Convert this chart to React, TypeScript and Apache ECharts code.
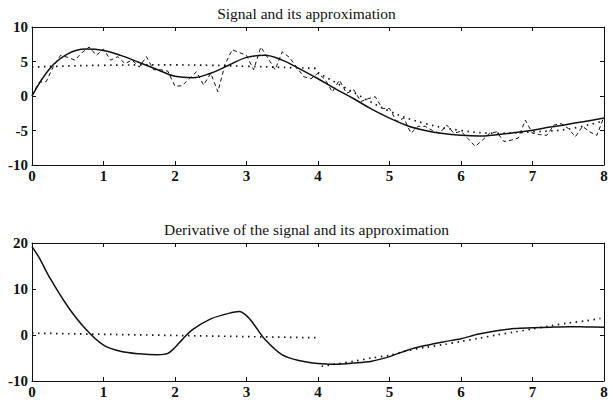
import React, { useEffect, useRef } from "react";
import * as echarts from "echarts";

// ---- Top panel: signal (solid), noisy samples (dashed), approximation (dotted)
const SIGNAL_T = [0, 0.25, 0.5, 0.75, 1, 1.25, 1.5, 1.75, 2, 2.25, 2.5, 2.75, 3, 3.25, 3.5, 3.75, 4, 4.25, 4.5, 4.75, 5, 5.25, 5.5, 5.75, 6, 6.25, 6.5, 6.75, 7, 7.25, 7.5, 7.75, 8];
const SIGNAL_V = [0, 4.0, 6.1, 6.8, 6.6, 5.85, 4.85, 3.85, 2.85, 2.65, 3.3, 4.45, 5.6, 5.9, 5.2, 3.9, 2.5, 1.0, -0.4, -1.9, -3.2, -4.3, -5.0, -5.45, -5.7, -5.8, -5.6, -5.3, -4.95, -4.5, -4.1, -3.65, -3.2];

const NOISY_T = [0, 0.1, 0.2, 0.3, 0.4, 0.5, 0.6, 0.7, 0.8, 0.9, 1, 1.1, 1.2, 1.3, 1.4, 1.5, 1.6, 1.7, 1.8, 1.9, 2, 2.1, 2.2, 2.3, 2.4, 2.5, 2.6, 2.7, 2.8, 2.9, 3, 3.1, 3.2, 3.3, 3.4, 3.5, 3.6, 3.7, 3.8, 3.9, 4, 4.1, 4.2, 4.3, 4.4, 4.5, 4.6, 4.7, 4.8, 4.9, 5, 5.1, 5.2, 5.3, 5.4, 5.5, 5.6, 5.7, 5.8, 5.9, 6, 6.1, 6.2, 6.3, 6.4, 6.5, 6.6, 6.7, 6.8, 6.9, 7, 7.1, 7.2, 7.3, 7.4, 7.5, 7.6, 7.7, 7.8, 7.9, 8];
const NOISY_V = [0.1, 2.0, 2.1, 4.3, 5.9, 5.6, 5.2, 6.3, 7.1, 5.9, 6.8, 5.2, 5.7, 4.7, 5.2, 4.2, 5.7, 3.8, 3.8, 3.6, 1.4, 1.5, 2.5, 3.5, 1.6, 3.3, 0.6, 4.6, 6.7, 6.3, 5.9, 3.8, 7.1, 5.5, 3.8, 6.4, 5.6, 4.2, 2.8, 2.5, 3.3, 2.4, 0.6, 2.3, 0.4, 0.9, -0.8, -0.4, -0.1, -1.8, -1.8, -3.7, -3.2, -5.4, -4.4, -4.4, -5.0, -5.4, -4.2, -5.4, -5.1, -6.2, -7.3, -6.4, -5.4, -5.2, -6.6, -6.4, -6.1, -3.5, -5.4, -5.6, -5.7, -4.2, -4.0, -4.7, -5.9, -4.4, -5.2, -5.7, -3.0];

const APPROX_A_T = [0, 0.5, 1, 1.5, 2, 2.5, 3, 3.5, 4];
const APPROX_A_V = [4.2, 4.35, 4.45, 4.5, 4.5, 4.45, 4.3, 4.15, 4.0];
const APPROX_B_T = [4, 4.5, 5, 5.5, 6, 6.5, 7, 7.5, 8];
const APPROX_B_V = [3.4, 0.5, -2.2, -4.0, -5.0, -5.4, -5.2, -4.8, -3.6];

// ---- Bottom panel: derivative (solid) and derivative of approximation (dotted)
const DERIV_T = [0, 0.1, 0.25, 0.5, 0.75, 1, 1.25, 1.5, 1.75, 1.9, 2, 2.1, 2.25, 2.5, 2.75, 2.9, 3, 3.1, 3.25, 3.5, 3.75, 4, 4.25, 4.5, 4.75, 5, 5.25, 5.5, 5.75, 6, 6.25, 6.5, 6.75, 7, 7.25, 7.5, 7.75, 8];
const DERIV_V = [19.2, 16.8, 12.4, 6.2, 1.3, -2.2, -3.6, -4.1, -4.3, -4.0, -2.7, -1.0, 1.2, 3.5, 4.7, 5.1, 4.2, 2.4, -0.8, -4.3, -5.6, -6.2, -6.35, -6.1, -5.7, -4.7, -3.3, -2.3, -1.5, -0.8, 0.2, 0.9, 1.4, 1.55, 1.7, 1.8, 1.75, 1.7];

const DAPPROX_A_T = [0, 4];
const DAPPROX_A_V = [0.4, -0.6];
const DAPPROX_B_T = [4.05, 4.25, 4.5, 4.75, 5, 5.25, 5.5, 5.75, 6, 6.25, 6.5, 6.75, 7, 7.25, 7.5, 7.75, 7.95];
const DAPPROX_B_V = [-6.8, -6.3, -5.7, -5.0, -4.4, -3.4, -2.7, -2.1, -1.4, -0.7, 0.0, 0.65, 1.3, 2.0, 2.6, 3.1, 3.6];

const TITLES = ["Signal and its approximation", "Derivative of the signal and its approximation"];

const INK = "#111";
const FONT = "'Liberation Serif', 'DejaVu Serif', serif";

const zip = (t: number[], v: number[]) => t.map((x, i) => [x, v[i]]);

export default function App() {
  const ref = useRef<HTMLDivElement>(null);
  useEffect(() => {
    if (!ref.current) return;
    const chart = echarts.init(ref.current, undefined, { renderer: "svg" });

    const tick = { show: true, inside: true, length: 4, lineStyle: { color: INK, width: 1 } };
    const line = { show: true, onZero: false, lineStyle: { color: INK, width: 1 } };
    const label = { color: INK, fontFamily: FONT, fontWeight: "bold" as const, fontSize: 15 };

    const xBottom = (grid: number) => ({
      type: "value", gridIndex: grid, min: 0, max: 8, interval: 1, position: "bottom",
      axisLine: line, axisTick: tick, splitLine: { show: false },
      axisLabel: { ...label, margin: 3 },
    });
    const xTop = (grid: number) => ({
      type: "value", gridIndex: grid, min: 0, max: 8, interval: 1, position: "top",
      axisLine: line, axisTick: tick, splitLine: { show: false }, axisLabel: { show: false },
    });
    const yLeft = (grid: number, min: number, max: number, interval: number) => ({
      type: "value", gridIndex: grid, min, max, interval, position: "left",
      axisLine: line, axisTick: tick, splitLine: { show: false },
      axisLabel: { ...label, margin: 4 },
    });
    const yRight = (grid: number, min: number, max: number, interval: number) => ({
      type: "value", gridIndex: grid, min, max, interval, position: "right",
      axisLine: line, axisTick: tick, splitLine: { show: false }, axisLabel: { show: false },
    });

    const lineSeries = (data: number[][], xi: number, yi: number, style: any, smooth: number) => ({
      type: "line", data, xAxisIndex: xi, yAxisIndex: yi, showSymbol: false, smooth,
      lineStyle: style, silent: true,
    });

    const solid = { color: INK, width: 1.5 };
    const dashed = { color: INK, width: 1, type: [4, 3] };
    const dotted = { color: INK, width: 1.7, type: [1.5, 4.5] };
    const titleStyle = { fontFamily: FONT, fontSize: 15.5, fontWeight: "normal" as const, color: INK };

    chart.setOption({
      animation: false,
      backgroundColor: "#fff",
      title: [
        { text: TITLES[0], left: "center", top: 0, textStyle: titleStyle },
        { text: TITLES[1], left: "center", top: 216, textStyle: titleStyle },
      ],
      grid: [
        { left: 32, right: 9, top: 27, height: 138 },
        { left: 32, right: 9, top: 243, height: 138 },
      ],
      xAxis: [xBottom(0), xTop(0), xBottom(1), xTop(1)],
      yAxis: [yLeft(0, -10, 10, 5), yRight(0, -10, 10, 5), yLeft(1, -10, 20, 10), yRight(1, -10, 20, 10)],
      series: [
        lineSeries(zip(NOISY_T, NOISY_V), 0, 0, dashed, 0),
        lineSeries(zip(SIGNAL_T, SIGNAL_V), 0, 0, solid, 0.4),
        lineSeries(zip(APPROX_A_T, APPROX_A_V), 0, 0, dotted, 0.4),
        lineSeries(zip(APPROX_B_T, APPROX_B_V), 0, 0, dotted, 0.4),
        lineSeries(zip(DERIV_T, DERIV_V), 2, 2, solid, 0.3),
        lineSeries(zip(DAPPROX_A_T, DAPPROX_A_V), 2, 2, dotted, 0),
        lineSeries(zip(DAPPROX_B_T, DAPPROX_B_V), 2, 2, dotted, 0.3),
      ],
    });
    return () => chart.dispose();
  }, []);
  return <div ref={ref} style={{ position: "absolute", left: 0, top: 0, width: 613, height: 405 }} />;
}
